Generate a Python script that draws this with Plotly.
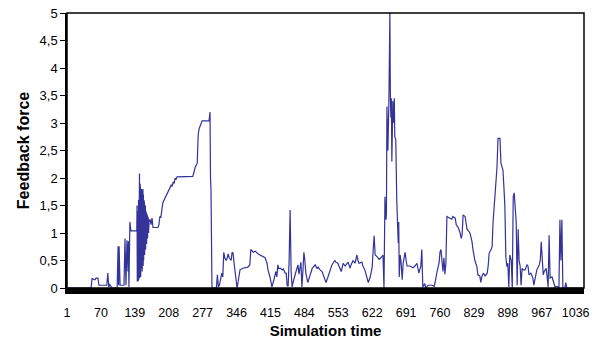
import plotly.graph_objects as go

# Simulation time readings (x) and feedback force (y)
sim_time = [
    1, 50, 52, 58, 60, 64, 66, 82, 84, 86, 88, 93, 103, 105, 106, 107, 109, 117, 119, 121,
    123, 125, 126, 127, 129, 131, 143,
    143, 143.5, 144, 144.5, 145, 145.5, 146, 146.5, 147, 147.5, 148, 148.5, 149, 149.5,
    150, 150.5, 151, 151.5, 152, 152.5, 153, 153.5, 154, 154.5, 155, 155.5, 156, 156.5,
    157, 157.5, 158, 158.5, 159, 159.5, 160, 160.5, 161, 161.5, 162, 162.5, 163, 163.5,
    164, 164.5, 165, 165.5, 166, 166.5, 167, 167.5, 168,
    170, 172, 174, 176, 186, 188, 190, 192, 196, 200, 207, 211, 213, 215, 217, 219, 221,
    223, 225, 257, 262, 266, 268, 270, 274, 276, 290, 291, 292, 293, 294, 296,
    305, 307, 309, 311, 316, 318, 320, 322, 325, 327, 329, 331, 335, 337, 339, 341, 343,
    345, 347, 349, 353, 359, 365, 369, 373, 375, 380, 384, 390, 394, 400, 404, 408, 410,
    414, 418, 422, 424, 426, 428, 430, 432, 435, 439, 441, 445, 447, 449, 451, 453, 455,
    457, 459, 461, 465, 467, 471, 473, 477, 479, 481, 483, 485, 487, 491, 495, 500, 504,
    506, 510, 512, 516, 520, 524, 528, 532, 536, 540, 546, 548, 552, 556, 559, 563, 567,
    573, 577, 579, 583, 587, 591, 593, 595, 601, 603, 607, 611, 614, 618, 622, 624, 626,
    628, 632, 636, 640, 644, 646, 648, 650, 651, 652, 654, 656, 658, 659, 660, 661, 662,
    664, 666, 667, 668, 670, 672, 675, 676, 677, 679, 681, 683, 685, 689, 691, 693, 699,
    705, 709, 713, 717, 721, 723, 725, 729, 731, 736, 744, 748, 750, 754, 758, 760, 762,
    764, 766, 768, 770, 772, 774, 780, 784, 786, 791, 793, 797, 801, 803, 805, 807, 811,
    813, 815, 821, 825, 827, 831, 835, 837, 841, 843, 845, 848, 852, 856, 858, 860, 864,
    866, 868, 870, 872, 874, 876, 878, 882, 884, 886, 888, 890, 892, 894, 896, 898, 900,
    902, 905, 907, 909, 911, 913, 915, 917, 919, 921, 923, 925, 927, 929, 933, 937, 939,
    941, 945, 949, 951, 955, 957, 962, 964, 966, 968, 970, 972, 976, 978, 980, 982, 984,
    988, 990, 994, 998, 1002, 1004, 1006, 1008, 1010, 1014, 1016, 1018, 1053,
]
feedback_force = [
    0, 0, 0.17, 0.15, 0.18, 0.18, 0.05, 0.05, 0.27, 0.02, 0.06, 0, 0, 0.76, 0.05, 0.76, 0.05, 0.05, 0.9, 0.05,
    0.87, 0.3, 0.85, 0.02, 1.2, 1.04, 1.04,
    0.15, 1.5, 0.12, 1.4, 0.2, 1.3, 0.12, 1.6, 0.15, 1.8, 0.2, 2.08, 0.18, 1.9, 0.25, 1.8,
    0.2, 1.75, 0.3, 1.8, 0.35, 1.78, 0.3, 1.75, 0.45, 1.8, 0.4, 1.7, 0.5, 1.6,
    0.55, 1.55, 0.6, 1.45, 0.65, 1.5, 0.7, 1.4, 0.75, 1.35, 0.8, 1.35, 0.85, 1.3,
    0.9, 1.3, 0.95, 1.25, 1.0, 1.2, 1.2,
    1.25, 1.15, 1.27, 1.1, 1.1, 1.15, 1.3, 1.28, 1.55, 1.62, 1.75, 1.82, 1.87, 1.85, 1.93, 1.9, 2.0,
    1.97, 2.02, 2.03, 2.2, 2.27, 2.8, 2.9, 3.0, 3.04, 3.04, 3.2, 3.2, 2.0, 1.8, 0.0,
    0.0, 0.24, 0.02, 0.05, 0.27, 0.2, 0.65, 0.55, 0.5, 0.55, 0.62, 0.55, 0.5, 0.65, 0.63, 0.45, 0.27,
    0.1, 0.0, 0.1, 0.33, 0.36, 0.37, 0.38, 0.42, 0.7, 0.65, 0.67, 0.62, 0.6, 0.58, 0.55, 0.45, 0.33,
    0.2, 0.02, 0.15, 0.24, 0.3, 0.2, 0.42, 0.35, 0.36, 0.33, 0.35, 0.27, 0.27, 0.05, 0.03, 0.5, 1.42,
    0.3, 0.02, 0.1, 0.27, 0.3, 0.42, 0.25, 0.47, 0.02, 0.3, 0.65, 0.5, 0.27, 0.1, 0.2, 0.36, 0.4,
    0.42, 0.35, 0.38, 0.33, 0.3, 0.2, 0.1, 0.2, 0.33, 0.42, 0.5, 0.47, 0.45, 0.35, 0.3, 0.45, 0.4,
    0.47, 0.36, 0.42, 0.5, 0.45, 0.6, 0.5, 0.45, 0.47, 0.4, 0.33, 0.2, 0.1, 0.2, 0.38, 0.7, 0.95,
    0.6, 0.57, 0.52, 0.55, 0.6, 0.0, 1.66, 1.24, 1.35, 3.3, 2.5, 3.4, 5.0, 3.5, 3.1, 3.45, 2.3,
    3.4, 3.0, 3.45, 2.75, 2.7, 1.6, 0.82, 1.2, 0.2, 0.6, 0.45, 0.15, 0.45, 0.65, 0.5, 0.4, 0.4,
    0.37, 0.4, 0.45, 0.27, 0.4, 0.7, 0.02, 0.08, 0.0, 0.05, 0.05, 0.03, 0.1, 0.3, 0.45, 0.65, 0.7,
    0.5, 0.3, 0.55, 0.25, 0.45, 1.3, 1.27, 1.25, 1.3, 1.27, 1.15, 1.1, 1.0, 0.9, 0.97, 1.33, 1.3,
    1.2, 1.07, 1.0, 0.85, 0.7, 0.5, 0.39, 0.24, 0.22, 0.1, 0.2, 0.27, 0.22, 0.27, 0.4, 0.63, 0.7,
    0.75, 1.2, 1.42, 1.6, 1.84, 2.2, 2.72, 2.72, 2.27, 2.2, 2.15, 1.84, 1.48, 0.56, 0.39, 0.45, 0.02,
    0.6, 0.5, 0.0, 1.66, 1.73, 1.5, 1.2, 0.05, 1.07, 0.5, 0.4, 0.05, 0.36, 0.33, 0.33, 0.42, 0.4,
    0.24, 0.27, 0.18, 0.05, 0.24, 0.33, 0.42, 0.5, 0.84, 0.42, 0.24, 0.3, 0.36, 0.2, 0.02, 0.96, 0.18,
    0.2, 0.15, 0.02, 0.03, 0.0, 1.24, 0.5, 1.24, 0.0, 0.0, 0.1, 0.0, 0.0,
]

x_tick_vals = [1, 70, 139, 208, 277, 346, 415, 484, 553, 622, 691, 760, 829, 898, 967, 1036]
y_tick_vals = [0, 0.5, 1, 1.5, 2, 2.5, 3, 3.5, 4, 4.5, 5]
y_tick_text = ["0", "0,5", "1", "1,5", "2", "2,5", "3", "3,5", "4", "4,5", "5"]

fig = go.Figure()
fig.add_trace(go.Scatter(
    x=sim_time, y=feedback_force, mode="lines",
    line=dict(color="#333399", width=1.2),
    showlegend=False, hoverinfo="skip",
))

font_family = "Liberation Sans, Arial, sans-serif"

fig.update_layout(
    width=598, height=339,
    margin=dict(l=67, r=14, t=13, b=51, autoexpand=False),
    paper_bgcolor="white", plot_bgcolor="white",
    font=dict(family=font_family, size=13, color="black"),
    xaxis=dict(
        range=[1, 1053],
        tickvals=x_tick_vals,
        ticktext=[str(v) for v in x_tick_vals],
        showgrid=False, zeroline=False, automargin=False,
        showline=True, linecolor="black", linewidth=6,
        ticks="", ticklabelstandoff=8,
        tickfont=dict(size=12.5),
        title=dict(text="<b>Simulation time</b>", font=dict(size=15), standoff=8),
    ),
    yaxis=dict(
        range=[0, 5],
        tickvals=y_tick_vals, ticktext=y_tick_text,
        showgrid=False, zeroline=False, automargin=False,
        showline=True, linecolor="black", linewidth=1.5,
        ticks="outside", ticklen=5, tickcolor="black",
        tickfont=dict(size=13),
        title=dict(text="<b>Feedback force</b>", font=dict(size=16), standoff=6),
    ),
    shapes=[dict(
        type="rect", xref="paper", yref="paper", x0=0, x1=1, y0=0, y1=1,
        line=dict(color="black", width=1.5), fillcolor="rgba(0,0,0,0)", layer="above",
    )],
)

fig.write_html("out.html")
